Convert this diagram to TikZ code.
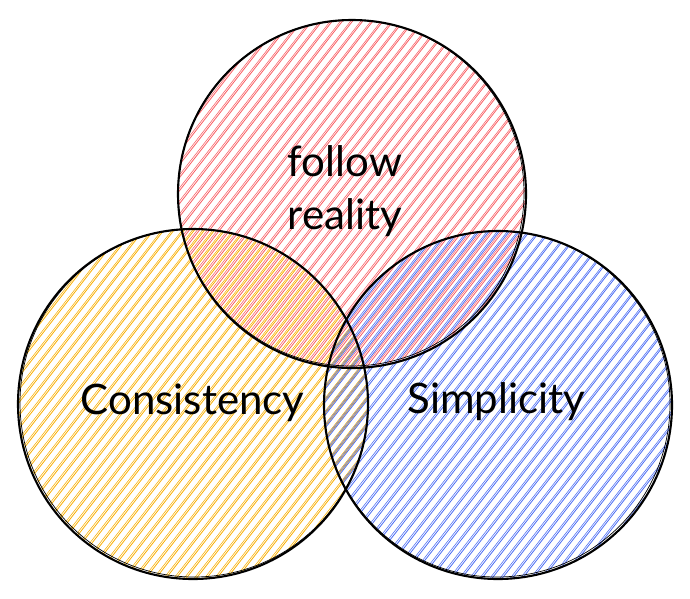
\documentclass[tikz,border=0pt]{standalone}
\usepackage{fontspec}
\setmainfont{Lato}
\definecolor{hred}{HTML}{FA5F64}
\definecolor{hyel}{HTML}{FAB005}
\definecolor{hblu}{HTML}{4C6EF5}
\newcommand\hatchcirc[4]{%
  \begin{scope}
    \clip (#1,#2) circle (#3pt);
    \begin{scope}[shift={(#1,#2)},rotate=52]
      \foreach \k in {-190,-182,...,190}{
        \draw[#4,line width=0.8pt] (-200,\k) -- (200,\k);
        \draw[#4,line width=0.55pt] (-200,\k+1.8) -- (200,\k+1.4);
      }
    \end{scope}
  \end{scope}}
\tikzset{
  ring/.style={draw=black,line width=2.1pt},
  ringb/.style={draw=black,line width=0.7pt},
  lbl/.style={font=\fontsize{42}{53}\selectfont,text=black,inner sep=0pt,anchor=base,align=center}
}
\begin{document}
\begin{tikzpicture}[x=1pt,y=1pt]
\useasboundingbox (0,0) rectangle (690,-598);
\fill[white] (0,0) rectangle (690,-598);
% hatching
\hatchcirc{352}{-194}{174}{hred}
\hatchcirc{193}{-404}{175}{hyel}
\hatchcirc{498}{-405}{174}{hblu}
% outlines
\draw[ring] (352,-194) circle (174pt);
\draw[ringb] (351,-193) circle (173pt);
\draw[ring] (193,-404) circle (175pt);
\draw[ringb] (194,-403) circle (174pt);
\draw[ring] (498,-405) circle (174pt);
\draw[ringb] (497,-404) circle (173pt);
% labels
\node[lbl] (fr) at (345,-229) {follow\\reality};
\node[lbl] (cons) at (192.5,-414) {Consistency};
\node[lbl] (simp) at (496.5,-413) {Simplicity};
\end{tikzpicture}
\end{document}
